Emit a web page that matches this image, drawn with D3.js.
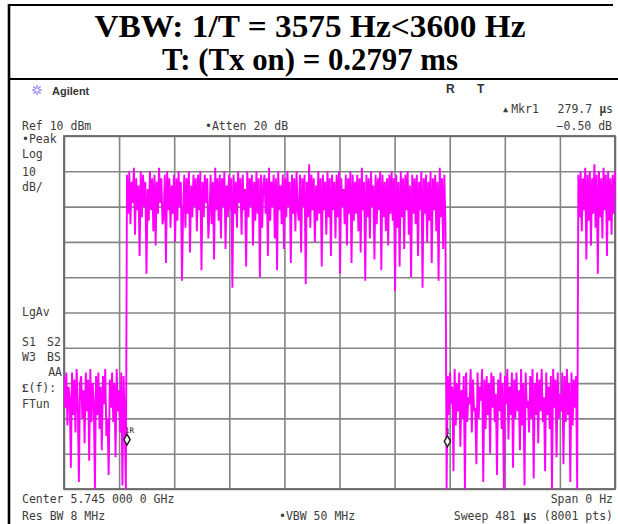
<!DOCTYPE html>
<html>
<head>
<meta charset="utf-8">
<script src="https://cdn.jsdelivr.net/npm/d3@7"></script>
<style>
  body { margin: 0; background: #fff; }
  svg { display: block; }
</style>
</head>
<body>
<svg id="chart" width="618" height="524"></svg>
<script>
// Zero-span sweep, 1 point per microsecond, dBm. Four stretches of the trace:
// noise floor, burst (Tx on), noise floor, start of the next burst.
const noiseA = [
  -58,-67,-57,-72,-61,-64,-84,-57,-69,-59,-74,-56,-66,-88,-60,-58,-70,-62,-77,-57,
  -68,-59,-82,-56,-71,-60,-65,-90,-58,-69,-57,-73,-61,-79,-58,-66,-56,-75,-70,-86,
  -59,-67,-57,-71,-60,-81,-56,-68,-62,-74,-57,-89,-58,-70,-90
];
const burstA = [
  -1,-12,0,-15,-3,-9,1,-18,-2,-11,-4,-24,0,-13,-1,-10,-3,-29,-5,-14,
  0,-11,-2,-17,-1,-21,-3,-12,1,-9,-2,-15,-13,-1,-26,0,-11,-2,-16,-4,
  -12,-1,-20,-2,-14,0,-10,-3,-31,-11,-1,-16,-2,-12,0,-23,-4,-13,-1,-10,
  -2,-17,-1,-11,0,-28,-3,-13,-1,-9,-2,-19,-12,-1,-15,-3,-25,1,-11,-2,
  -14,-1,-19,-2,-10,0,-22,-4,-13,-1,-11,-2,-33,-1,-12,-3,-16,0,-9,-2,
  -18,-1,-11,-5,-27,0,-13,-2,-10,-1,-21,-3,-14,0,-12,-2,-30,-1,-16,-4,
  -1,-12,-2,-24,1,-14,-3,-10,-1,-19,-2,-28,0,-11,-4,-15,-1,-22,-2,-13,
  0,-10,-3,-26,-1,-12,-2,-17,0,-11,-14,-1,-23,-2,-10,-1,-32,-3,-13,2,
  -16,-1,-11,-2,-20,-4,-14,0,-12,-2,-27,-1,-11,-3,-18,0,-13,-2,-24,-1,
  -11,-3,-19,-1,-13,0,-29,-2,-10,-5,-15,-1,-21,-2,-12,0,-26,-1,-14,-3,
  -12,-1,-17,-2,-23,1,-11,-3,-31,-1,-13,-2,-19,0,-10,-4,-25,-1,-15,-2,
  -11,0,-28,-1,-13,-3,-17,-2,-21,-1,-12,0,-14,-2,-34,-1,-16,-3,-27,0,
  -13,-2,-22,-1,-11,0,-18,-4,-30,-1,-12,-2,-15,-1,-24,-3,-11,0,-33,-2,
  -12,-1,-20,-3,-14,0,-26,-2,-11,-1,-17,-3,-31,1,-13,-2,-22,-1,-15,-90
];
const noiseB = [
  -58,-69,-57,-66,-61,-85,-56,-72,-60,-68,-57,-78,-62,-70,-58,-90,-57,-71,-64,-66,
  -56,-74,-59,-68,-67,-83,-57,-70,-61,-65,-56,-88,-59,-73,-58,-69,-60,-80,-57,-67,
  -58,-71,-63,-86,-59,-68,-57,-73,-60,-90,-58,-66,-56,-76,-61,-69,-57,-84,-59,-70,
  -57,-68,-62,-79,-56,-72,-60,-89,-57,-67,-65,-74,-58,-70,-56,-87,-60,-69,-57,-77,
  -59,-68,-56,-71,-64,-85,-57,-69,-61,-73,-58,-90,-56,-67,-59,-81,-57,-70,-63,-68,
  -57,-83,-58,-71,-56,-69,-60,-88,-57,-72,-59,-67,-58,-90
];
const burstB = [
  -1,-13,0,-17,-2,-11,1,-25,-1,-14,0,-21,-2,-12,2,-16,-1,-29,0,-13,
  -2,-19,1,-11,-1,-24,0,-14,-2,-18,-1,-12,0
];
const segmentStartUs = [0, 55, 335, 449];

// Instrument settings
const sweepUs = 481;
const refLevelDbm = 10;
const dbPerDiv = 10;
const divisions = 10;

// Delta marker pair
const markerTimesUs = [55.0, 334.7];
const markerLevelsDbm = [-76.0, -76.5];
const markerLabels = ["1R", "1"];

// Title lines
const titleLines = ["VBW: 1/T = 3575 Hz<3600 Hz", "T: (Tx on) = 0.2797 ms"];
const titleWidths = [431, 296];

const trace = [noiseA, burstA, noiseB, burstB].flatMap((seg, i) =>
  seg.map((v, j) => ({ t: segmentStartUs[i] + j, v })));

const svg = d3.select("#chart");
const plot = { left: 64, right: 615, top: 136, bottom: 489 };

const x = d3.scaleLinear().domain([0, sweepUs]).range([plot.left, plot.right]);
const y = d3.scaleLinear()
  .domain([refLevelDbm - dbPerDiv * divisions, refLevelDbm])
  .range([plot.bottom, plot.top]);

// Title box
svg.append("line").attr("x1", 8).attr("x2", 613).attr("y1", 5).attr("y2", 5)
  .attr("stroke", "#000").attr("stroke-width", 2.2);
svg.append("line").attr("x1", 8).attr("x2", 618).attr("y1", 79).attr("y2", 79)
  .attr("stroke", "#000").attr("stroke-width", 2.2);
svg.append("line").attr("x1", 9).attr("x2", 9).attr("y1", 4).attr("y2", 524)
  .attr("stroke", "#000").attr("stroke-width", 2.6);

svg.selectAll("text.title").data(titleLines).join("text")
  .attr("class", "title")
  .attr("x", 310).attr("y", (d, i) => 37 + i * 33)
  .attr("text-anchor", "middle")
  .attr("font-family", "'Liberation Serif', 'Times New Roman', serif")
  .attr("font-weight", "bold").attr("font-size", 31)
  .attr("textLength", (d, i) => titleWidths[i])
  .attr("lengthAdjust", "spacingAndGlyphs")
  .attr("fill", "#000")
  .text(d => d);

// Grid (axes with full-length ticks, no labels)
const xTicks = d3.range(divisions + 1).map(i => i * sweepUs / divisions);
const yTicks = d3.range(divisions + 1).map(i => refLevelDbm - i * dbPerDiv);

const gx = svg.append("g").attr("transform", `translate(0,${plot.bottom})`)
  .call(d3.axisBottom(x).tickValues(xTicks).tickSize(-(plot.bottom - plot.top)).tickFormat(""));
const gy = svg.append("g").attr("transform", `translate(${plot.left},0)`)
  .call(d3.axisLeft(y).tickValues(yTicks).tickSize(-(plot.right - plot.left)).tickFormat(""));
[gx, gy].forEach(g => {
  g.select(".domain").remove();
  g.selectAll(".tick line").attr("stroke", "#858585").attr("stroke-width", 1.6);
});
svg.append("rect")
  .attr("x", plot.left).attr("y", plot.top)
  .attr("width", plot.right - plot.left).attr("height", plot.bottom - plot.top)
  .attr("fill", "none").attr("stroke", "#6a6a6a").attr("stroke-width", 1.8);

// Trace
svg.append("clipPath").attr("id", "plotClip").append("rect")
  .attr("x", plot.left).attr("y", plot.top - 10)
  .attr("width", plot.right - plot.left + 2).attr("height", plot.bottom - plot.top + 10);

const line = d3.line().x(d => x(d.t)).y(d => y(d.v));
svg.append("path").datum(trace)
  .attr("clip-path", "url(#plotClip)")
  .attr("d", line)
  .attr("fill", "none").attr("stroke", "#ff00ff")
  .attr("stroke-width", 1.9).attr("stroke-linejoin", "miter");

// Markers
const mk = svg.append("g");
markerTimesUs.forEach((t, i) => {
  const mx = x(t), my = y(markerLevelsDbm[i]);
  mk.append("path")
    .attr("d", d3.symbol(d3.symbolDiamond, 34)())
    .attr("transform", `translate(${mx},${my})`)
    .attr("fill", "#fff").attr("stroke", "#222").attr("stroke-width", 1.5);
  mk.append("text").attr("x", mx - 2).attr("y", my - 7)
    .attr("font-family", "'DejaVu Sans Mono', monospace").attr("font-size", 7.5)
    .attr("fill", "#222").text(markerLabels[i]);
});

// Instrument annotations
const mono = "'DejaVu Sans Mono', monospace";
const ann = svg.append("g").attr("font-family", mono).attr("font-size", 11.5).attr("fill", "#3c3c3c");
const label = (xp, yp, txt, anchor = "start") =>
  ann.append("text").attr("x", xp).attr("y", yp).attr("text-anchor", anchor).text(txt);

// Agilent logo
const logo = svg.append("g").attr("transform", "translate(37,90)")
  .attr("stroke", "#8a7cff").attr("stroke-width", 1.3);
d3.range(8).forEach(k => {
  const a = k * Math.PI / 4;
  logo.append("line").attr("x1", 1.6 * Math.cos(a)).attr("y1", 1.6 * Math.sin(a))
    .attr("x2", 5 * Math.cos(a)).attr("y2", 5 * Math.sin(a));
});
svg.append("text").attr("x", 52).attr("y", 95)
  .attr("font-family", "'Liberation Sans', Arial, sans-serif").attr("font-weight", "bold")
  .attr("font-size", 11).attr("fill", "#333").text("Agilent");

svg.append("text").attr("x", 446).attr("y", 93)
  .attr("font-family", "'Liberation Sans', Arial, sans-serif").attr("font-weight", "bold")
  .attr("font-size", 12).attr("fill", "#333").text("R");
svg.append("text").attr("x", 477).attr("y", 93)
  .attr("font-family", "'Liberation Sans', Arial, sans-serif").attr("font-weight", "bold")
  .attr("font-size", 12).attr("fill", "#333").text("T");

const mkr = label(503, 113, "");
mkr.append("tspan").attr("font-size", 8.5).attr("dy", -1).text("▲");
mkr.append("tspan").attr("dy", 1).attr("dx", 3).text("Mkr1");
const mval = label(613, 113, "", "end");
mval.append("tspan").text("279.7 ");
mval.append("tspan").attr("font-weight", "bold").text("µ");
mval.append("tspan").text("s");
label(612, 130, "−0.50 dB", "end");

label(22, 130, "Ref 10 dBm");
label(205, 130, "•Atten 20 dB");
label(22, 143, "•Peak");
label(22, 158, "Log");
label(22, 176, "10");
label(22, 191, "dB/");
label(22, 316, "LgAv");
label(22, 346, "S1");
label(47, 346, "S2");
label(22, 361, "W3");
label(47, 361, "BS");
label(62, 376, "AA", "end");
const ff = label(22, 392, "");
ff.append("tspan").attr("font-weight", "bold").attr("font-family", "'Liberation Serif', serif").attr("font-size", 13).text("£");
ff.append("tspan").text("(f):");
label(22, 408, "FTun");

label(22, 503, "Center 5.745 000 0 GHz");
label(22, 520, "Res BW 8 MHz");
label(279, 520, "•VBW 50 MHz");
label(613, 503, "Span 0 Hz", "end");
const sw = label(613, 520, "", "end");
sw.append("tspan").text("Sweep 481 ");
sw.append("tspan").attr("font-weight", "bold").text("µ");
sw.append("tspan").text("s (8001 pts)");
</script>
</body>
</html>
